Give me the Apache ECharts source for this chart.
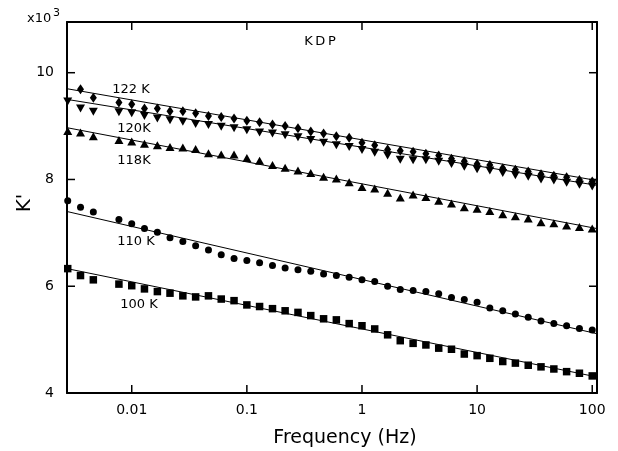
<!DOCTYPE html>
<html><head><meta charset="utf-8">
<script src="https://cdn.jsdelivr.net/npm/echarts@6/dist/echarts.min.js"></script>
<style>html,body{margin:0;padding:0;background:#fff}#c{width:618px;height:451px}</style>
</head><body><div id="c"></div>
<script>
// Frequency grid (Hz), 9 points per decade
const freq = [0.00278,0.00359,0.00464,0.00599,0.00774,
  0.01,0.0129,0.0167,0.0215,0.0278,0.0359,0.0464,0.0599,0.0774,
  0.1,0.129,0.167,0.215,0.278,0.359,0.464,0.599,0.774,
  1,1.29,1.67,2.15,2.78,3.59,4.64,5.99,7.74,
  10,12.9,16.7,21.5,27.8,35.9,46.4,59.9,77.4,100];
// K' (x10^3) values
const k122 = [null,9.69,9.53,null,9.44,9.41,9.33,9.33,9.28,9.28,9.24,9.19,9.17,9.14,9.10,9.07,9.03,9.00,8.96,8.90,8.86,8.81,8.78,8.69,8.64,8.56,8.54,8.52,8.48,8.45,8.39,8.34,8.29,8.27,8.21,8.18,8.15,8.10,8.07,8.04,7.99,7.96];
const k120 = [9.46,9.33,9.27,null,9.26,9.24,9.19,9.14,9.11,9.08,9.04,9.02,8.99,8.96,8.92,8.88,8.86,8.83,8.79,8.74,8.69,8.64,8.61,8.55,8.50,8.45,8.37,8.36,8.36,8.33,8.29,8.24,8.19,8.17,8.12,8.08,8.05,8.00,7.98,7.94,7.90,7.87];
const k118 = [8.91,8.88,8.81,null,8.74,8.71,8.67,8.64,8.61,8.60,8.57,8.49,8.47,8.47,8.40,8.35,8.27,8.22,8.17,8.12,8.05,8.02,7.95,7.86,7.83,7.75,7.66,7.72,7.67,7.60,7.55,7.48,7.45,7.41,7.35,7.31,7.27,7.20,7.18,7.14,7.11,7.08];
const k110 = [7.60,7.48,7.39,null,7.25,7.17,7.08,7.01,6.91,6.84,6.76,6.68,6.59,6.52,6.48,6.44,6.39,6.34,6.31,6.28,6.23,6.20,6.17,6.12,6.09,6.00,5.94,5.92,5.90,5.86,5.79,5.75,5.70,5.59,5.54,5.48,5.42,5.35,5.30,5.26,5.21,5.18];
const k100 = [6.33,6.20,6.12,null,6.04,6.01,5.95,5.90,5.87,5.82,5.80,5.82,5.76,5.73,5.65,5.62,5.58,5.54,5.51,5.45,5.39,5.37,5.30,5.26,5.20,5.09,4.98,4.93,4.90,4.84,4.82,4.73,4.70,4.65,4.59,4.56,4.52,4.49,4.45,4.40,4.37,4.32];
// Fitted straight lines: value at left edge and right edge of the axis
const fitFreq = [0.00274, 110];
const fit122 = [9.70, 7.98];
const fit120 = [9.50, 7.89];
const fit118 = [8.97, 7.08];
const fit110 = [7.40, 5.11];
const fit100 = [6.33, 4.30];
const seriesLabels = ['122 K','120K','118K','110 K','100 K'];
const xTickValues = [0.01, 0.1, 1, 10, 100];
const xTickLabels = ['0.01','0.1','1','10','100'];
const yTickValues = [4, 6, 8, 10];
const yTickLabels = ['4','6','8','10'];
const yRange = [4, 10.95];

const FONT = '"DejaVu Sans", sans-serif';
const TICK_LEN = 8;
function pts(vals){ const out=[]; vals.forEach((v,i)=>{ if(v!==null) out.push([freq[i],v]); }); return out; }
function fit(vals){ return [[fitFreq[0],vals[0]],[fitFreq[1],vals[1]]]; }
function sc(vals, symbol, size, rot){
  return {type:'scatter', data:pts(vals), symbol:symbol, symbolSize:size, symbolRotate:rot||0,
    itemStyle:{color:'#000', opacity:1, borderWidth:0}, z:3, silent:true, animation:false};
}
function ln(vals){
  return {type:'line', data:fit(vals), symbol:'none', lineStyle:{color:'#000', width:1, opacity:1}, z:2, silent:true, animation:false};
}
function tickLine(x1,y1,x2,y2){ return {type:'line', shape:{x1:x1,y1:y1,x2:x2,y2:y2}, style:{stroke:'#000', lineWidth:1.5}}; }
// inward ticks on bottom/top (at x tick values), positioned via the axes' own scales
const xTickSeries = {
  type:'custom', coordinateSystem:'cartesian2d', silent:true, z:5, animation:false, clip:false,
  data: xTickValues.map(v => [v, yRange[0]]),
  renderItem: function(params, api){
    const b = api.coord([api.value(0), yRange[0]]);
    const t = api.coord([api.value(0), yRange[1]]);
    return {type:'group', children:[ tickLine(b[0], b[1], b[0], b[1]-TICK_LEN), tickLine(t[0], t[1], t[0], t[1]+TICK_LEN) ]};
  }
};
// inward ticks on left/right (at y tick values)
const yTickSeries = {
  type:'custom', coordinateSystem:'cartesian2d', silent:true, z:5, animation:false, clip:false,
  data: yTickValues.map(v => [fitFreq[0], v]),
  renderItem: function(params, api){
    const l = api.coord([fitFreq[0], api.value(1)]);
    const r = api.coord([fitFreq[1], api.value(1)]);
    return {type:'group', children:[ tickLine(l[0], l[1], l[0]+TICK_LEN, l[1]), tickLine(r[0], r[1], r[0]-TICK_LEN, r[1]) ]};
  }
};
function axLine(){ return {show:true, onZero:false, lineStyle:{color:'#000', width:2}}; }
const noTick = {show:false};
function xLog(extra){ return Object.assign({type:'log', logBase:10, min:fitFreq[0], max:fitFreq[1], splitLine:{show:false}, axisLine:axLine(), axisTick:noTick}, extra); }
function yVal(extra){ return Object.assign({type:'value', min:yRange[0], max:yRange[1], interval:2, splitLine:{show:false}, axisLine:axLine(), axisTick:noTick}, extra); }
const chart = echarts.init(document.getElementById('c'));
chart.setOption({
  animation:false,
  grid:{show:false, left:67, right:21, top:22, bottom:58},
  xAxis:[
    xLog({axisLabel:{show:true, margin:10, color:'#000', fontFamily:FONT, fontSize:14, showMinLabel:false, showMaxLabel:false,
       formatter:function(v){ const s=String(+Number(v).toPrecision(3)); return xTickLabels.indexOf(s)>=0? s : ''; }}}),
    xLog({position:'top', axisLabel:{show:false}})
  ],
  yAxis:[
    yVal({axisLabel:{color:'#000', fontFamily:FONT, fontSize:14, margin:13, showMaxLabel:false,
       formatter:function(v){ const s=String(v); return yTickLabels.indexOf(s)>=0? s : ''; }}}),
    yVal({position:'right', axisLabel:{show:false}})
  ],
  series:[
    ln(fit122), ln(fit120), ln(fit118), ln(fit110), ln(fit100),
    sc(k122,'diamond',[7,10]),
    sc(k120,'triangle',[9,8],180),
    sc(k118,'triangle',[9,8]),
    sc(k110,'circle',7),
    sc(k100,'rect',7.5),
    xTickSeries, yTickSeries
  ],
  graphic:[
    {type:'text', x:27, y:25, style:{text:'x10', font:'13px '+FONT, fill:'#000', align:'left', verticalAlign:'bottom'}},
    {type:'text', x:53, y:19, style:{text:'3', font:'11px '+FONT, fill:'#000', align:'left', verticalAlign:'bottom'}},
    {type:'text', x:320, y:42, style:{text:'K\u2009D\u2009P', font:'13px '+FONT, fill:'#000', align:'center', verticalAlign:'middle'}},
    {type:'text', x:131, y:90, style:{text:seriesLabels[0], font:'13px '+FONT, fill:'#000', align:'center', verticalAlign:'middle'}},
    {type:'text', x:134, y:129, style:{text:seriesLabels[1], font:'13px '+FONT, fill:'#000', align:'center', verticalAlign:'middle'}},
    {type:'text', x:134, y:161, style:{text:seriesLabels[2], font:'13px '+FONT, fill:'#000', align:'center', verticalAlign:'middle'}},
    {type:'text', x:136, y:242, style:{text:seriesLabels[3], font:'13px '+FONT, fill:'#000', align:'center', verticalAlign:'middle'}},
    {type:'text', x:139, y:305, style:{text:seriesLabels[4], font:'13px '+FONT, fill:'#000', align:'center', verticalAlign:'middle'}},
    {type:'text', x:345, y:438, style:{text:'Frequency (Hz)', font:'19px '+FONT, fill:'#000', align:'center', verticalAlign:'middle'}},
    {type:'text', x:25, y:203, rotation:Math.PI/2, style:{text:"K'", font:'20px '+FONT, fill:'#000', align:'center', verticalAlign:'middle'}}
  ]
});
</script></body></html>
